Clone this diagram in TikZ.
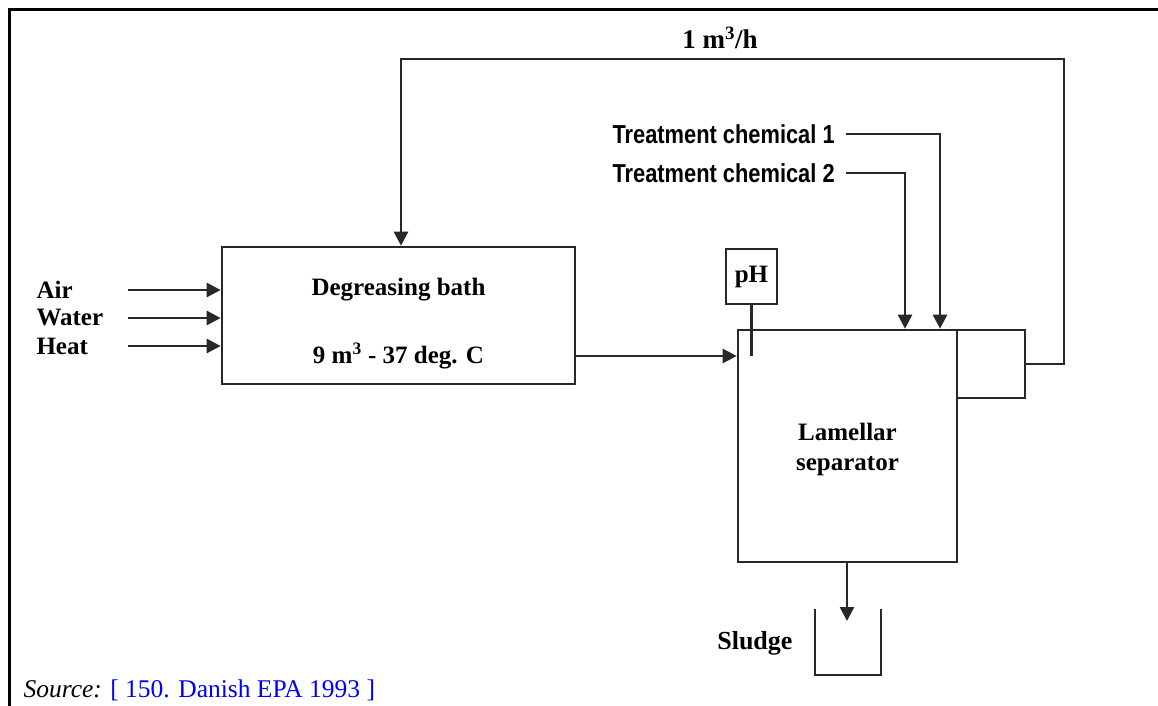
\documentclass[tikz,border=0pt]{standalone}
\usepackage{fontspec}
\setmainfont{Liberation Serif}
\newfontfamily\chemfont[FakeStretch=0.84]{Liberation Sans}
\usetikzlibrary{arrows.meta,positioning}
\definecolor{pipegray}{RGB}{40,40,40}
\definecolor{srcblue}{RGB}{0,0,250}

\tikzset{
  unit/.style={draw=pipegray, line width=2.6pt, inner sep=0pt, align=center},
  pipe/.style={draw=pipegray, line width=2.6pt},
  flow/.style={pipe, -{Triangle[length=14pt,width=14pt]}},
  tag/.style={font=\fontsize{25}{30}\selectfont\bfseries},
  chemtag/.style={font=\fontsize{26}{30}\selectfont\chemfont\bfseries}
}

\begin{document}
\begin{tikzpicture}[x=1pt,y=-1pt]
\useasboundingbox (0,0) rectangle (1158,706);
\draw[line width=3pt] (1158,10) -- (9,10) -- (9,706);

% units
\node[unit, minimum width=353pt, minimum height=137pt] (bath) at (398.5,315.5) {};
\node[tag] (bathname) at (398.5,290) {Degreasing bath};
\node[tag] (bathvol) at (398.5,356) {9 m\textsuperscript{3} - 37 deg. C};
\node[unit, minimum width=219pt, minimum height=232pt] (sep) at (847.5,446) {};
\node[tag, align=center] (septext) at (847.5,449) {Lamellar\\separator};
\node[unit, minimum width=68pt, minimum height=68pt] (skim) at (991,364) {};
\node[unit, minimum width=51pt, minimum height=55pt, tag] (ph) at (751.5,276.5) {pH};

% inputs
\node[tag, anchor=west] (air) at (33,290) {Air};
\node[tag, anchor=west] (water) at (33,318) {Water};
\node[tag, anchor=west] (heat) at (33,346) {Heat};
\coordinate (airin) at (128,290);
\coordinate (waterin) at (128,318);
\coordinate (heatin) at (128,346);
\draw[flow] (airin) -- (airin -| bath.west);
\draw[flow] (waterin) -- (waterin -| bath.west);
\draw[flow] (heatin) -- (heatin -| bath.west);

% bath to separator
\draw[flow] (bathvol -| bath.east) -- (bathvol -| sep.west);
\draw[pipe] (ph.south) -- (ph.south |- bathvol);

% chemicals
\node[chemtag, anchor=west] (chemone) at (609,134) {Treatment chemical 1};
\node[chemtag, anchor=west] (chemtwo) at (609,173) {Treatment chemical 2};
\draw[flow, shorten <=8pt] (chemone.east) -| (sep.north -| 940,0);
\draw[flow, shorten <=8pt] (chemtwo.east) -| (sep.north -| 905,0);

% recycle
\node[tag, font=\fontsize{27}{30}\selectfont\bfseries] (rate) at (720,38) {1 m\textsuperscript{3}/h};
\coordinate (recR) at (1064,59);
\coordinate (recL) at (401,59);
\draw[flow] (skim.east) -| (recR) -- (recL) -- (recL |- bath.north);

% sludge
\coordinate (sludgein) at (847,621);
\draw[flow] (sep.south -| sludgein) -- (sludgein);
\draw[pipe] (815,609) -- (815,675) -- (881,675) -- (881,609);
\node[tag, anchor=east, font=\fontsize{26}{30}\selectfont\bfseries] (sludge) at (796,643) {Sludge};

\node[anchor=base west, font=\fontsize{25.5}{30}\selectfont] (source) at (20,697) {\textit{Source:} \textcolor{srcblue}{[ 150. Danish EPA 1993 ]}};
\end{tikzpicture}
\end{document}
